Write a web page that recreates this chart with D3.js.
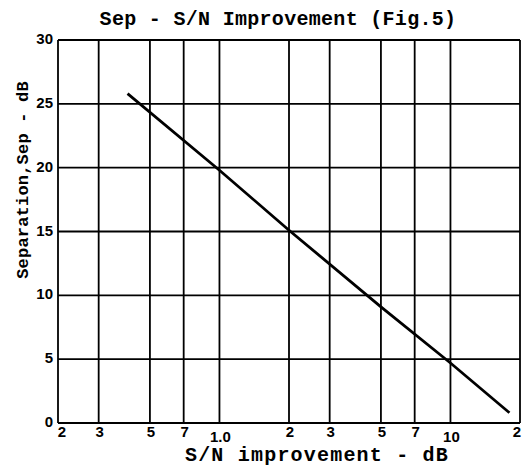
<!DOCTYPE html>
<html>
<head>
<meta charset="utf-8">
<script src="https://cdn.jsdelivr.net/npm/d3@7"></script>
<style>
  body { margin: 0; background: #fff; }
</style>
</head>
<body>
<div id="chart"></div>
<script>
// values
var xTicks = [0.2, 0.3, 0.5, 0.7, 1, 2, 3, 5, 7, 10, 20];
var xTickLabels = ['2', '3', '5', '7', '1.0', '2', '3', '5', '7', '10', '2'];
var yTicks = [0, 5, 10, 15, 20, 25, 30];
var snImprovement = [0.4, 1, 2, 5, 10, 18];
var separation = [25.8, 19.8, 15.1, 9.1, 4.7, 0.8];

var width = 525, height = 468;
// plot box (note: "top" is reserved on window, so use prefixed names)
var plotL = 58, plotR = 520, plotT = 40, plotB = 423;

var svg = d3.select('#chart').append('svg')
    .attr('width', width)
    .attr('height', height);

var x = d3.scaleLog().domain([0.2, 20]).range([plotL, plotR]);
var y = d3.scaleLinear().domain([0, 30]).range([plotB, plotT]);

var mono = '"Liberation Mono", "DejaVu Sans Mono", monospace';

// title
svg.append('text')
    .attr('x', 278)
    .attr('y', 25)
    .attr('text-anchor', 'middle')
    .attr('font-family', mono)
    .attr('font-weight', 'bold')
    .attr('font-size', '20px')
    .attr('letter-spacing', '0.3px')
    .text('Sep - S/N Improvement (Fig.5)');

// grid
var grid = svg.append('g')
    .attr('stroke', '#000')
    .attr('stroke-width', 1.8);

grid.selectAll('line.v')
    .data(xTicks)
    .enter().append('line')
    .attr('class', 'v')
    .attr('x1', function(d) { return x(d); })
    .attr('x2', function(d) { return x(d); })
    .attr('y1', plotT)
    .attr('y2', plotB);

grid.selectAll('line.h')
    .data(yTicks)
    .enter().append('line')
    .attr('class', 'h')
    .attr('x1', plotL)
    .attr('x2', plotR)
    .attr('y1', function(d) { return y(d); })
    .attr('y2', function(d) { return y(d); });

// x tick labels ("1.0" and "10" sit a little lower, like the original)
svg.append('g')
    .attr('font-family', '"Liberation Sans", Arial, sans-serif')
    .attr('font-weight', 'bold')
    .attr('font-size', '15px')
    .attr('text-anchor', 'middle')
    .selectAll('text')
    .data(xTicks)
    .enter().append('text')
    .attr('x', function(d, i) { return i === 0 ? x(d) + 4 : (i === xTicks.length - 1 ? x(d) - 3 : x(d) + 1); })
    .attr('y', function(d, i) { return xTickLabels[i].length > 1 ? plotB + 19 : plotB + 14; })
    .text(function(d, i) { return xTickLabels[i]; });

// y tick labels
svg.append('g')
    .attr('font-family', '"Liberation Sans", Arial, sans-serif')
    .attr('font-weight', 'bold')
    .attr('font-size', '15px')
    .attr('text-anchor', 'end')
    .selectAll('text')
    .data(yTicks)
    .enter().append('text')
    .attr('x', plotL - 5)
    .attr('y', function(d) { return y(d) + 4; })
    .text(function(d) { return d; });

// axis titles
svg.append('text')
    .attr('x', 317)
    .attr('y', 461)
    .attr('text-anchor', 'middle')
    .attr('font-family', mono)
    .attr('font-weight', 'bold')
    .attr('font-size', '20px')
    .attr('letter-spacing', '1.2px')
    .text('S/N improvement - dB');

svg.append('text')
    .attr('transform', 'translate(28,180) rotate(-90)')
    .attr('text-anchor', 'middle')
    .attr('font-family', mono)
    .attr('font-weight', 'bold')
    .attr('font-size', '17px')
    .attr('letter-spacing', '0.2px')
    .text('Separation,Sep - dB');

// the curve
var line = d3.line()
    .x(function(d) { return x(d[0]); })
    .y(function(d) { return y(d[1]); });

svg.append('path')
    .datum(d3.zip(snImprovement, separation))
    .attr('fill', 'none')
    .attr('stroke', '#000')
    .attr('stroke-width', 2.8)
    .attr('d', line);
</script>
</body>
</html>
